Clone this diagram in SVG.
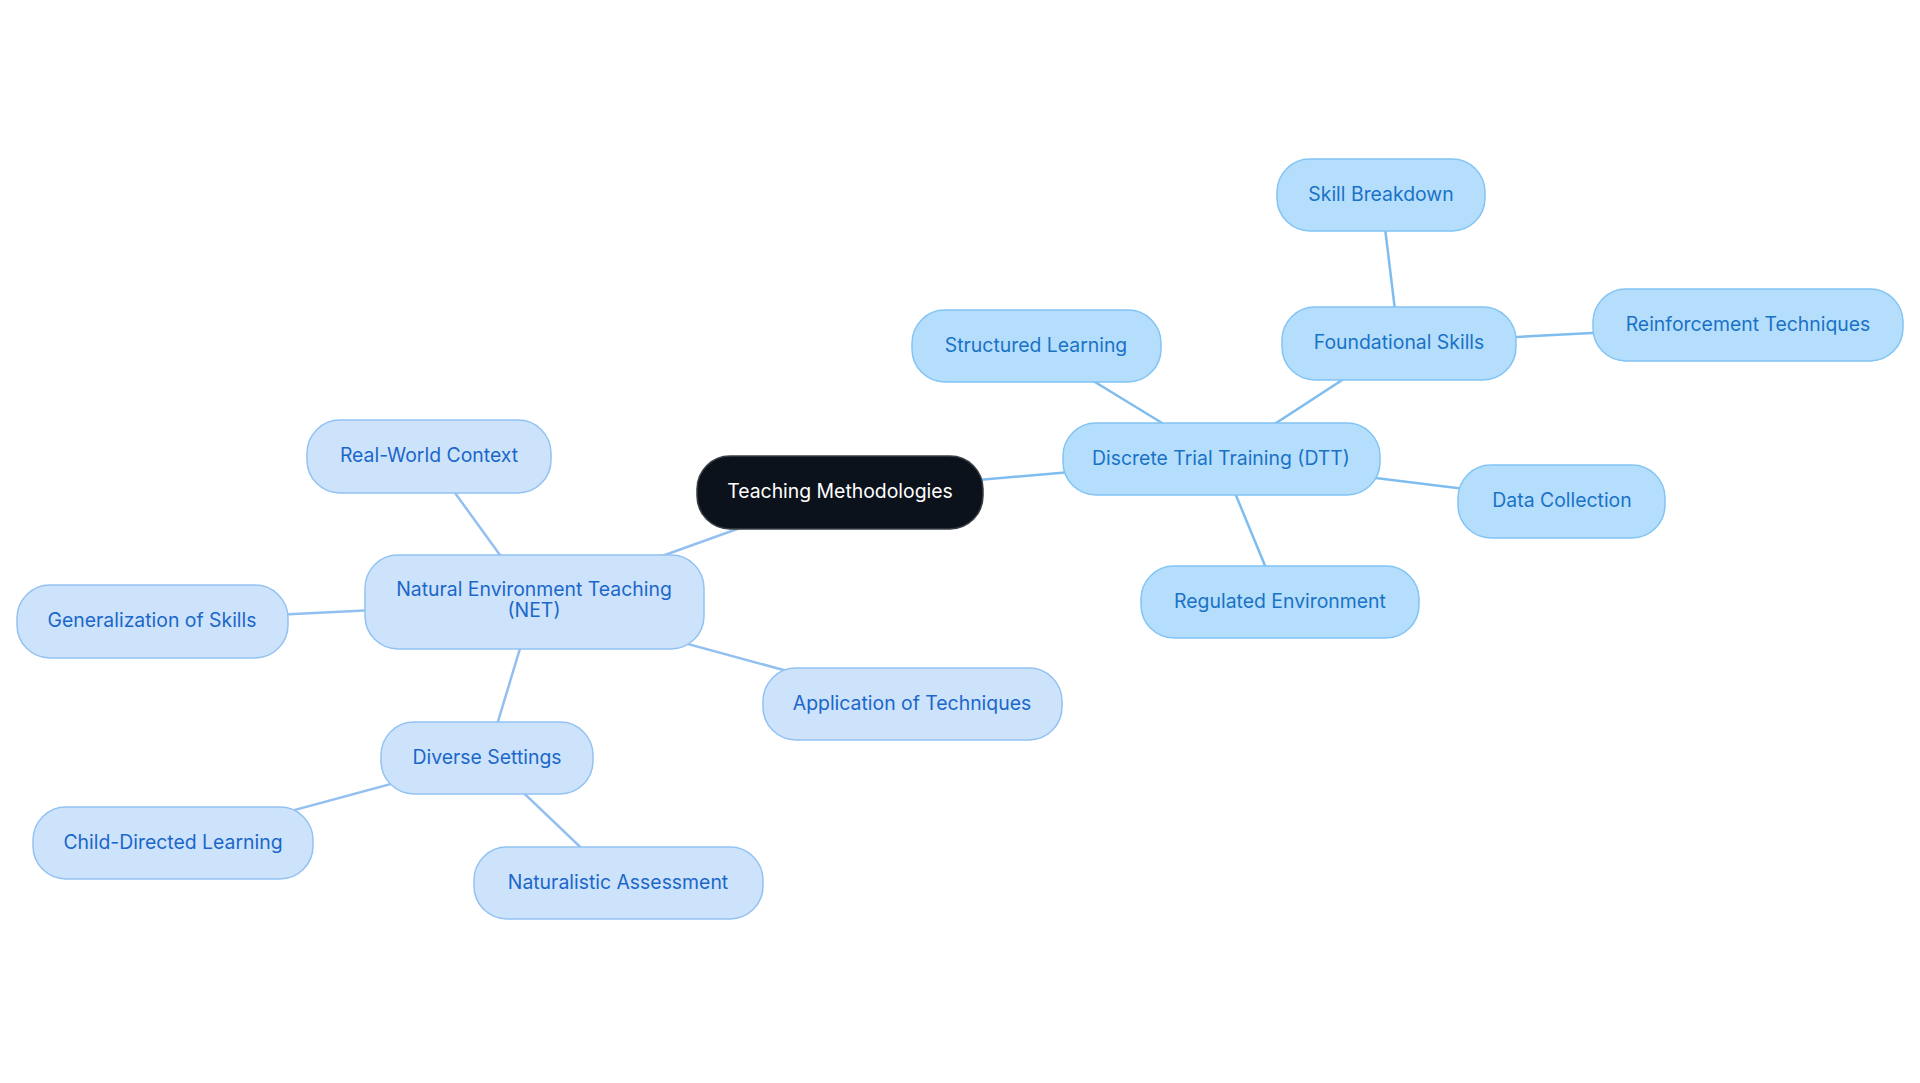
<svg xmlns="http://www.w3.org/2000/svg" width="1920" height="1083" viewBox="0 0 1920 1083">
<style>
.bg{fill:#ffffff}
.n rect{stroke-width:1.5}
.net rect{fill:#cde3fb;stroke:#93c2f2}
.dtt rect{fill:#b5defd;stroke:#82c4f3}
.root rect{fill:#0c121b;stroke:#3a3f46}
text{font-family:Inter,"Open Sans","Liberation Sans",sans-serif;font-size:19.4px;text-anchor:middle;dominant-baseline:central}
.net text{fill:#1b67c9}
.dtt text{fill:#1a72c6}
.root text{fill:#ffffff}
.c line{stroke-width:2.5;fill:none}
.cn{stroke:#93c0f0}
.cd{stroke:#7fbdef}
</style>
<rect class="bg" x="0" y="0" width="1920" height="1083"/>
<g id="connectors" class="c">
<line class="cn" x1="840" y1="492" x2="534" y2="602"/>
<line class="cd" x1="840" y1="492" x2="1221" y2="459"/>
<line class="cd" x1="1221" y1="459" x2="1036" y2="346"/>
<line class="cd" x1="1221" y1="459" x2="1399" y2="343"/>
<line class="cd" x1="1399" y1="343" x2="1381" y2="195"/>
<line class="cd" x1="1399" y1="343" x2="1748" y2="325"/>
<line class="cd" x1="1221" y1="459" x2="1562" y2="501"/>
<line class="cd" x1="1221" y1="459" x2="1280" y2="602"/>
<line class="cn" x1="534" y1="602" x2="429" y2="457"/>
<line class="cn" x1="534" y1="602" x2="152" y2="621"/>
<line class="cn" x1="534" y1="602" x2="912" y2="705"/>
<line class="cn" x1="534" y1="602" x2="487" y2="758"/>
<line class="cn" x1="487" y1="758" x2="173" y2="843"/>
<line class="cn" x1="487" y1="758" x2="618" y2="883"/>
</g>
<g id="root" class="n root"><rect x="697" y="456" width="286" height="73" rx="33"/><text x="840" y="491">Teaching Methodologies</text></g>
<g id="dtt" class="n dtt"><rect x="1063" y="423" width="317" height="72" rx="33"/><text x="1221" y="458">Discrete Trial Training (DTT)</text></g>
<g id="structured" class="n dtt"><rect x="912" y="310" width="249" height="72" rx="33"/><text x="1036" y="345">Structured Learning</text></g>
<g id="foundational" class="n dtt"><rect x="1282" y="307" width="234" height="73" rx="33"/><text x="1399" y="342">Foundational Skills</text></g>
<g id="skillbreakdown" class="n dtt"><rect x="1277" y="159" width="208" height="72" rx="33"/><text x="1381" y="194">Skill Breakdown</text></g>
<g id="reinforcement" class="n dtt"><rect x="1593" y="289" width="310" height="72" rx="33"/><text x="1748" y="324">Reinforcement Techniques</text></g>
<g id="datacollection" class="n dtt"><rect x="1458" y="465" width="207" height="73" rx="33"/><text x="1562" y="500">Data Collection</text></g>
<g id="regulated" class="n dtt"><rect x="1141" y="566" width="278" height="72" rx="33"/><text x="1280" y="601">Regulated Environment</text></g>
<g id="net" class="n net"><rect x="365" y="555" width="339" height="94" rx="33"/><text x="534" y="589">Natural Environment Teaching</text><text x="534" y="610">(NET)</text></g>
<g id="realworld" class="n net"><rect x="307" y="420" width="244" height="73" rx="33"/><text x="429" y="455">Real-World Context</text></g>
<g id="generalization" class="n net"><rect x="17" y="585" width="271" height="73" rx="33"/><text x="152" y="620">Generalization of Skills</text></g>
<g id="application" class="n net"><rect x="763" y="668" width="299" height="72" rx="33"/><text x="912" y="703">Application of Techniques</text></g>
<g id="diverse" class="n net"><rect x="381" y="722" width="212" height="72" rx="33"/><text x="487" y="757">Diverse Settings</text></g>
<g id="childdirected" class="n net"><rect x="33" y="807" width="280" height="72" rx="33"/><text x="173" y="842">Child-Directed Learning</text></g>
<g id="naturalistic" class="n net"><rect x="474" y="847" width="289" height="72" rx="33"/><text x="618" y="882">Naturalistic Assessment</text></g>
</svg>
